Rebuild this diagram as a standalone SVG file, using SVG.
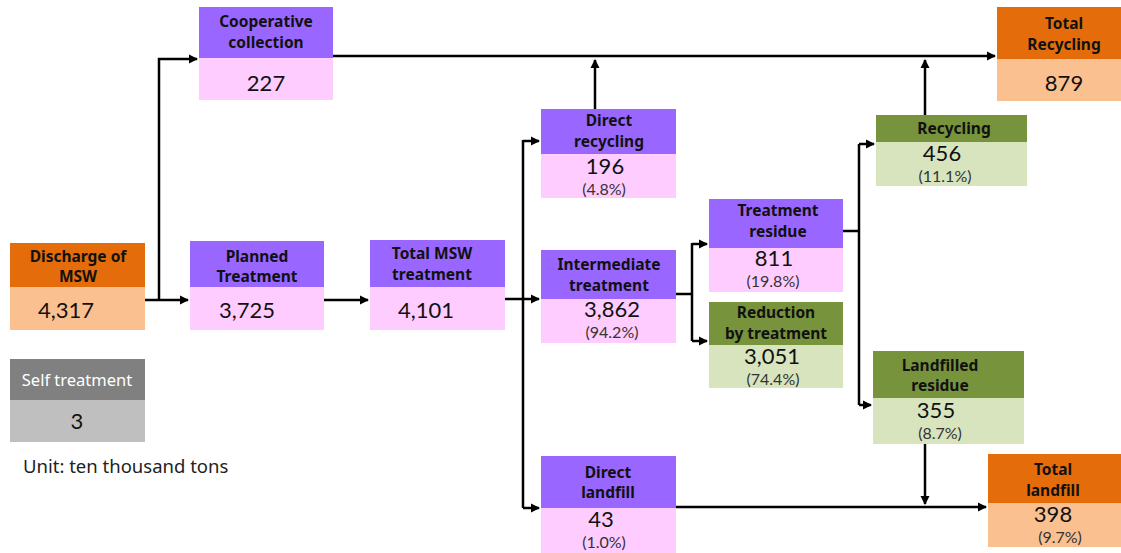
<svg xmlns="http://www.w3.org/2000/svg" width="1121" height="553" viewBox="0 0 1121 553">
<style>
text{font-family:"Noto Sans","Open Sans","Liberation Sans",sans-serif;text-anchor:middle;fill:#111}
.h{font-weight:bold;font-size:15.5px}
.v{font-family:Lato,"Liberation Sans",sans-serif;font-size:22px}
.p{font-family:Lato,"Liberation Sans",sans-serif;font-size:16px;fill:#333}
.hp{fill:#9966ff}.bp{fill:#ffccff}
.ho{fill:#e46c0a}.bo{fill:#fac090}
.hg{fill:#77933c}.bg{fill:#d7e4bd}
.hx{fill:#808080}.bx{fill:#bfbfbf}
.c{fill:none;stroke:#000;stroke-width:2.5}
</style>
<defs>
<marker id="a" markerWidth="10" markerHeight="10" refX="8" refY="5" orient="auto" markerUnits="userSpaceOnUse"><path d="M0,0.5 L9,5 L0,9.5 Z" fill="#000"/></marker>
</defs>
<rect width="1121" height="553" fill="#fff"/>
<g id="connectors">
<path class="c" d="M145,300 H188" marker-end="url(#a)"/>
<path class="c" d="M159,300 V59 H197" marker-end="url(#a)"/>
<path class="c" d="M324,300 H368" marker-end="url(#a)"/>
<path class="c" d="M505,299 H539" marker-end="url(#a)"/>
<path class="c" d="M523,140 V508"/>
<path class="c" d="M523,141 H539" marker-end="url(#a)"/>
<path class="c" d="M523,508 H539" marker-end="url(#a)"/>
<path class="c" d="M333,56 H995" marker-end="url(#a)"/>
<path class="c" d="M595,109 V60" marker-end="url(#a)"/>
<path class="c" d="M676,294 H692"/>
<path class="c" d="M692,243 V341"/>
<path class="c" d="M692,244 H707" marker-end="url(#a)"/>
<path class="c" d="M692,341 H707" marker-end="url(#a)"/>
<path class="c" d="M843,231 H859"/>
<path class="c" d="M859,144 V405"/>
<path class="c" d="M859,144 H874" marker-end="url(#a)"/>
<path class="c" d="M859,405 H871" marker-end="url(#a)"/>
<path class="c" d="M925,115 V60" marker-end="url(#a)"/>
<path class="c" d="M925,444 V504" marker-end="url(#a)"/>
<path class="c" d="M676,507 H986" marker-end="url(#a)"/>
</g>
<g id="cooperative">
<rect class="hp" x="199" y="7" width="134" height="51"/><rect class="bp" x="199" y="58" width="134" height="42"/>
<text class="h" x="266" y="27">Cooperative</text><text class="h" x="266" y="48">collection</text>
<text class="v" x="266" y="91">227</text>
</g>
<g id="total-recycling">
<rect class="ho" x="997" y="7" width="124" height="52"/><rect class="bo" x="997" y="59" width="124" height="42"/>
<text class="h" x="1064" y="29">Total</text><text class="h" x="1064" y="50">Recycling</text>
<text class="v" x="1064" y="91">879</text>
</g>
<g id="discharge">
<rect class="ho" x="10" y="243" width="135" height="44"/><rect class="bo" x="10" y="287" width="135" height="43"/>
<text class="h" x="78" y="262">Discharge of</text><text class="h" x="78" y="282">MSW</text>
<text class="v" x="66" y="318">4,317</text>
</g>
<g id="planned">
<rect class="hp" x="190" y="241" width="134" height="46"/><rect class="bp" x="190" y="287" width="134" height="43"/>
<text class="h" x="257" y="262">Planned</text><text class="h" x="257" y="282">Treatment</text>
<text class="v" x="247" y="318">3,725</text>
</g>
<g id="total-msw">
<rect class="hp" x="370" y="240" width="135" height="47"/><rect class="bp" x="370" y="287" width="135" height="43"/>
<text class="h" x="432" y="259">Total MSW</text><text class="h" x="432" y="280">treatment</text>
<text class="v" x="426" y="318">4,101</text>
</g>
<g id="self">
<rect class="hx" x="10" y="359" width="135" height="41"/><rect class="bx" x="10" y="400" width="135" height="42"/>
<text x="77" y="386" style="font-size:16.5px;fill:#fff">Self treatment</text>
<text class="v" x="77" y="429">3</text>
</g>
<text x="23" y="473" style="font-size:18.5px;text-anchor:start;fill:#222">Unit: ten thousand tons</text>
<g id="direct-recycling">
<rect class="hp" x="541" y="109" width="135" height="45"/><rect class="bp" x="541" y="154" width="135" height="44"/>
<text class="h" x="609" y="126">Direct</text><text class="h" x="609" y="147">recycling</text>
<text class="v" x="605" y="174">196</text><text class="p" x="604" y="195">(4.8%)</text>
</g>
<g id="intermediate">
<rect class="hp" x="541" y="250" width="135" height="49"/><rect class="bp" x="541" y="299" width="135" height="44"/>
<text class="h" x="609" y="270">Intermediate</text><text class="h" x="609" y="291">treatment</text>
<text class="v" x="612" y="317">3,862</text><text class="p" x="612" y="338">(94.2%)</text>
</g>
<g id="treatment-residue">
<rect class="hp" x="709" y="199" width="134" height="49"/><rect class="bp" x="709" y="248" width="134" height="44"/>
<text class="h" x="778" y="216">Treatment</text><text class="h" x="778" y="237">residue</text>
<text class="v" x="774" y="266">811</text><text class="p" x="773" y="287">(19.8%)</text>
</g>
<g id="reduction">
<rect class="hg" x="709" y="302" width="134" height="43"/><rect class="bg" x="709" y="345" width="134" height="43"/>
<text class="h" x="776" y="318">Reduction</text><text class="h" x="776" y="339">by treatment</text>
<text class="v" x="772" y="364">3,051</text><text class="p" x="773" y="385">(74.4%)</text>
</g>
<g id="recycling">
<rect class="hg" x="876" y="115" width="151" height="27"/><rect class="bg" x="876" y="142" width="151" height="44"/>
<text class="h" x="954" y="134">Recycling</text>
<text class="v" x="942" y="161">456</text><text class="p" x="945" y="182">(11.1%)</text>
</g>
<g id="landfilled-residue">
<rect class="hg" x="873" y="351" width="151" height="47"/><rect class="bg" x="873" y="398" width="151" height="46"/>
<text class="h" x="940" y="371">Landfilled</text><text class="h" x="940" y="391">residue</text>
<text class="v" x="936" y="418">355</text><text class="p" x="940" y="439">(8.7%)</text>
</g>
<g id="direct-landfill">
<rect class="hp" x="541" y="456" width="135" height="52"/><rect class="bp" x="541" y="508" width="135" height="45"/>
<text class="h" x="608" y="478">Direct</text><text class="h" x="608" y="498">landfill</text>
<text class="v" x="601" y="527">43</text><text class="p" x="604" y="548">(1.0%)</text>
</g>
<g id="total-landfill">
<rect class="ho" x="988" y="454" width="133" height="49"/><rect class="bo" x="988" y="503" width="133" height="44"/>
<text class="h" x="1053" y="475">Total</text><text class="h" x="1053" y="496">landfill</text>
<text class="v" x="1053" y="522">398</text><text class="p" x="1060" y="543">(9.7%)</text>
</g>
</svg>
